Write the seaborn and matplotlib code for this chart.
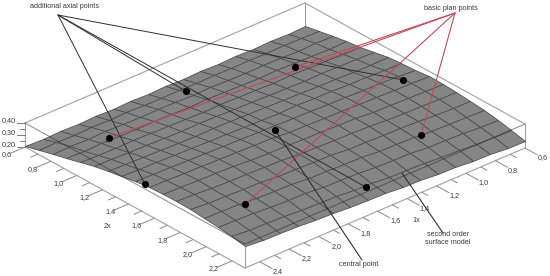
import numpy as np
import matplotlib
matplotlib.use("Agg")
import matplotlib.pyplot as plt
from matplotlib.colors import ListedColormap
import seaborn as sns

x1_range = [0.6, 2.5]
x2_range = [0.6, 2.3]
z_range = [0.2, 0.4]
n_lines = 17

# surface heights: rows follow 2x, columns follow 1x
surface_z = [
 [.208]*17,
 [.232,.233,.234,.234,.235,.235,.236,.237,.237,.238,.238,.239,.239,.240,.241,.241,.242],
 [.252,.254,.255,.256,.257,.258,.259,.261,.262,.263,.264,.265,.267,.268,.269,.270,.271],
 [.271,.272,.274,.276,.278,.279,.281,.283,.285,.286,.288,.290,.292,.293,.295,.297,.299],
 [.289,.291,.294,.296,.298,.301,.303,.305,.307,.310,.312,.314,.317,.319,.321,.324,.326],
 [.308,.310,.313,.316,.319,.322,.325,.328,.330,.333,.336,.339,.342,.345,.347,.350,.353],
 [.324,.328,.331,.334,.338,.341,.345,.348,.351,.355,.358,.361,.365,.368,.372,.375,.378],
 [.339,.343,.347,.351,.355,.359,.363,.366,.370,.374,.378,.382,.386,.390,.394,.398,.401],
 [.350,.355,.359,.363,.368,.372,.377,.381,.385,.390,.394,.398,.403,.407,.412,.416,.420],
 [.357,.362,.367,.372,.377,.382,.387,.391,.396,.401,.406,.411,.416,.420,.425,.430,.435],
 [.355,.360,.365,.371,.376,.381,.387,.392,.397,.403,.408,.413,.419,.424,.429,.435,.440],
 [.348,.354,.360,.366,.371,.377,.383,.389,.395,.400,.406,.412,.418,.423,.429,.435,.441],
 [.338,.344,.350,.357,.363,.369,.375,.381,.388,.394,.400,.406,.412,.419,.425,.431,.437],
 [.324,.330,.337,.344,.350,.357,.364,.370,.377,.384,.390,.397,.404,.410,.417,.423,.430],
 [.306,.313,.320,.327,.334,.341,.348,.355,.362,.369,.376,.383,.390,.397,.404,.411,.419],
 [.284,.291,.299,.306,.314,.321,.329,.336,.343,.351,.358,.366,.373,.381,.388,.395,.403],
 [.258,.266,.274,.282,.290,.297,.305,.313,.321,.329,.336,.344,.352,.360,.368,.375,.383],
]

basic_x1 = [1.003, 2.215, 1.028, 2.236]
basic_x2 = [0.983, 0.923, 1.984, 1.999]
basic_z = [0.306, 0.318, 0.346, 0.4125]
axial_x1 = [1.554, 0.727, 2.487, 1.598]
axial_x2 = [0.766, 1.504, 1.511, 2.208]
axial_z = [0.264, 0.362, 0.425, 0.344]
central_x1 = [1.588]
central_x2 = [1.493]
central_z = [0.392]

x1_ticks = [0.6, 0.8, 1.0, 1.2, 1.4, 1.6, 1.8, 2.0, 2.2, 2.4]
x2_ticks = [0.6, 0.8, 1.0, 1.2, 1.4, 1.6, 1.8, 2.0, 2.2]
z_ticks = [0.20, 0.30, 0.40]
z_minor = [0.25, 0.35]


def project(x1, x2, z):
    u = (np.asarray(x2, float) - x2_range[0]) / (x2_range[1] - x2_range[0])
    v = (np.asarray(x1, float) - x1_range[0]) / (x1_range[1] - x1_range[0])
    px = 305 + 220 * u - 280 * v
    py = 27 + 121 * u + 120 * v - (np.asarray(z, float) - 0.2) * 120
    return px, py


sns.set_theme(style="white")
plt.rcParams["font.family"] = ["Liberation Sans", "DejaVu Sans"]
fig = plt.figure(figsize=(5.5, 2.76), dpi=100)
ax = fig.add_axes([0, 0, 1, 1])
ax.set_xlim(0, 550)
ax.set_ylim(276, 0)
ax.axis("off")

BOX = "#a0a0a0"
TXT = "#3a3a3a"
FS = 5.2


def seg(a, b, color=BOX, lw=0.8, z=1, alpha=1.0):
    ax.plot([a[0], b[0]], [a[1], b[1]], color=color, lw=lw, zorder=z, alpha=alpha,
            solid_capstyle="round")


x1a, x1b = x1_range
x2a, x2b = x2_range
zlo, zhi = z_range
corners = {
    "B": (x1a, x2a), "R": (x1a, x2b), "F": (x1b, x2b), "L": (x1b, x2a),
}
# box behind the surface
for k in corners:
    seg(project(*corners[k], zlo), project(*corners[k], zhi))
seg(project(*corners["L"], zhi), project(*corners["B"], zhi))
seg(project(*corners["B"], zhi), project(*corners["R"], zhi))
seg(project(*corners["L"], zlo), project(*corners["F"], zlo))
seg(project(*corners["F"], zlo), project(*corners["R"], zlo))

# surface
x2_grid = np.linspace(x2a, x2b, n_lines)
x1_grid = np.linspace(x1a, x1b, n_lines)
G1, G2 = np.meshgrid(x1_grid, x2_grid)
PX, PY = project(G1, G2, np.array(surface_z))
ax.pcolormesh(PX, PY, np.zeros((n_lines - 1, n_lines - 1)), shading="flat",
              cmap=ListedColormap(["#858585"]), edgecolors="#4a4a4a",
              linewidth=0.55, zorder=2, antialiased=True)

# front top edges of the box lie over the surface
seg(project(*corners["L"], zhi), project(*corners["F"], zhi), color="#2a2a2a", z=3, alpha=0.5)
seg(project(*corners["F"], zhi), project(*corners["R"], zhi), color="#2a2a2a", z=3, alpha=0.5)

# 2x axis
for t in np.arange(6, 23) / 10:
    major = int(round(t * 10)) % 2 == 0
    seg(project(x1b, t, zlo), project(x1b + (0.1 if major else 0.05), t, zlo), color="#8a8a8a", lw=0.7)
for t in x2_ticks:
    px, py = project(x1b + 0.124, t, zlo)
    ax.text(px, py, f"{t:.1f}".replace(".", ","), fontsize=FS, color=TXT, ha="center", va="center")
# 1x axis
for t in np.arange(6, 25) / 10:
    major = int(round(t * 10)) % 2 == 0
    seg(project(t, x2b, zlo), project(t, x2b + (0.094 if major else 0.047), zlo), color="#8a8a8a", lw=0.7)
for t in x1_ticks:
    px, py = project(t, x2b + 0.136, zlo)
    ax.text(px, py, f"{t:.1f}".replace(".", ","), fontsize=FS, color=TXT, ha="center", va="center")
# z axis
for t in z_ticks + z_minor:
    px, py = project(x1b, x2a, t)
    seg((px - (8 if t in z_ticks else 5), py), (px, py), color="#7a7a7a", lw=0.7)
for t in z_ticks:
    px, py = project(x1b, x2a, t)
    ax.text(px - 9, py - 2, f"{t:.2f}".replace(".", ","), fontsize=FS, color=TXT, ha="right", va="center")

ax.text(107, 226, "2x", fontsize=FS, color=TXT, ha="center", va="center")
ax.text(416, 220, "1x", fontsize=FS, color=TXT, ha="center", va="center")

# leader lines
axial_anchor = (58, 15)
basic_anchor = (455, 13)
bx, by = project(basic_x1, basic_x2, basic_z)
ax_x, ax_y = project(axial_x1, axial_x2, axial_z)
cx, cy = project(central_x1, central_x2, central_z)
for a, b in zip(ax_x, ax_y):
    seg(axial_anchor, (a, b), color="#2e2e2e", lw=0.7, z=4)
for a, b in zip(bx, by):
    seg(basic_anchor, (a, b), color="#c04a5a", lw=0.8, z=4)
seg((362, 260), (cx[0], cy[0]), color="#2e2e2e", lw=0.8, z=4)
seg((443, 233), (402, 173), color="#2e2e2e", lw=0.8, z=4)

# design points
sns.scatterplot(x=np.concatenate([bx, ax_x, cx]), y=np.concatenate([by, ax_y, cy]),
                ax=ax, color="black", s=26, linewidth=0, zorder=5, legend=False)
ax.set_xlim(0, 550)
ax.set_ylim(276, 0)
ax.axis("off")

ax.text(65, 6, "additional axial points", fontsize=FS, color=TXT, ha="center", va="center")
ax.text(451, 8, "basic plan points", fontsize=FS, color=TXT, ha="center", va="center")
ax.text(359, 265, "central point", fontsize=FS, color=TXT, ha="center", va="center")
ax.text(448, 235, "second order", fontsize=FS, color=TXT, ha="center", va="center")
ax.text(448, 243, "surface model", fontsize=FS, color=TXT, ha="center", va="center")

fig.savefig("out.png", dpi=100, facecolor="white")
